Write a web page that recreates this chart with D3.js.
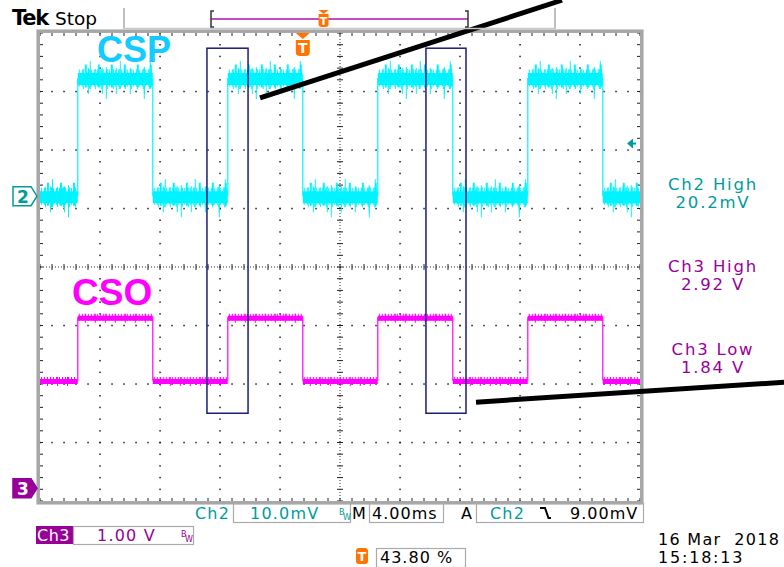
<!DOCTYPE html>
<html><head><meta charset="utf-8">
<script src="https://cdn.jsdelivr.net/npm/d3@7"></script>
<style>html,body{margin:0;padding:0;background:#fff;}svg{display:block;} text{white-space:pre;}</style>
</head><body>
<script>
// ---------- data ----------
const timeDomainMs = [-17.52, 22.48];          // visible record, 4.00 ms/div
const edgeTimesMs = [-15, -10, -5, 0, 5, 10, 15, 20];
const ch2LevelsMv = [0, 20.2, 0, 20.2, 0, 20.2, 0, 20.2, 0];
const ch3LevelsV  = [1.84, 2.92, 1.84, 2.92, 1.84, 2.92, 1.84, 2.92, 1.84];
const ch2VoltsPerDiv = 10;     // mV/div
const ch3VoltsPerDiv = 1;      // V/div
const ch2GroundDiv = 1.21;     // divisions above centre
const ch3GroundDiv = -3.78;
const triggerLevelMv = 9.0;
const triggerPercent = 43.80;
const traceLabels = ["CSP", "CSO"];
const measureLabels = ["Ch2 High", "Ch3 High", "Ch3 Low"];
const measureValues = ["20.2mV", "2.92 V", "1.84 V"];
const highlightWindowsMs = [[-6.39, -3.65], [8.21, 10.88]];
const highlightDivRange = [-2.50, 3.74];
const annotationLines = [[[-2.85, 2.89], [17.28, 4.56]], [[11.55, -2.31], [32.08, -1.97]]];
const statusTexts = {ch2Scale: "10.0mV", ch3Scale: "1.00 V", timebase: "4.00ms", trigLevel: "9.00mV",
  trigPos: "43.80 %", date: "16 Mar  2018", time: "15:18:13"};

// ---------- setup ----------
const W = 784, H = 567;
const svg = d3.select("body").append("svg").attr("width", W).attr("height", H);
svg.append("rect").attr("width", W).attr("height", H).attr("fill", "#fff");

const X0 = 40, X1 = 640, Y0 = 33, Y1 = 501;
const xDiv = d3.scaleLinear().domain([0, 10]).range([X0, X1]);
const yDiv = d3.scaleLinear().domain([-4, 4]).range([Y1, Y0]);
const xT = d3.scaleLinear().domain(timeDomainMs).range([X0, X1]);
const ch2Y = d3.scaleLinear().domain([0, ch2VoltsPerDiv]).range([yDiv(ch2GroundDiv), yDiv(ch2GroundDiv + 1)]);
const ch3Y = d3.scaleLinear().domain([0, ch3VoltsPerDiv]).range([yDiv(ch3GroundDiv), yDiv(ch3GroundDiv + 1)]);

const TEAL = "#009c9c", PURP = "#990099", CYAN = "#00f4ff", MAG = "#ff00ff", ORANGE = "#ff7400";
const FONT = "'DejaVu Sans', sans-serif";

// ---------- graticule ----------
const g = svg.append("g");
for (let i = 1; i < 10; i++) {
  if (i === 5) continue;
  for (let k = 0; k <= 40; k++) {
    g.append("rect").attr("x", xDiv(i) - 0.7).attr("y", yDiv(-4 + k / 5) - 0.7).attr("width", 1.5).attr("height", 1.5).attr("fill", "#222");
  }
}
for (let j = -3; j <= 3; j++) {
  if (j === 0) continue;
  for (let k = 0; k <= 50; k++) {
    g.append("rect").attr("x", xDiv(k / 5) - 0.7).attr("y", yDiv(j) - 0.7).attr("width", 1.5).attr("height", 1.5).attr("fill", "#222");
  }
}
g.append("line").attr("x1", xDiv(5)).attr("x2", xDiv(5)).attr("y1", Y0).attr("y2", Y1)
  .attr("stroke", "#333").attr("stroke-width", 1).attr("stroke-dasharray", "1 2");
g.append("line").attr("x1", X0).attr("x2", X1).attr("y1", yDiv(0)).attr("y2", yDiv(0))
  .attr("stroke", "#333").attr("stroke-width", 1).attr("stroke-dasharray", "1 2");
for (let k = 0; k <= 40; k++) {
  const y = yDiv(-4 + k / 5);
  g.append("line").attr("x1", xDiv(5) - 3).attr("x2", xDiv(5) + 3).attr("y1", y).attr("y2", y).attr("stroke", "#222");
}
for (let k = 0; k <= 50; k++) {
  const x = xDiv(k / 5);
  g.append("line").attr("x1", x).attr("x2", x).attr("y1", yDiv(0) - 3).attr("y2", yDiv(0) + 3).attr("stroke", "#222");
}
for (let k = 0; k <= 50; k++) {
  const x = xDiv(k / 5);
  g.append("line").attr("x1", x).attr("x2", x).attr("y1", Y0).attr("y2", Y0 + 3).attr("stroke", "#222");
  g.append("line").attr("x1", x).attr("x2", x).attr("y1", Y1 - 3).attr("y2", Y1).attr("stroke", "#222");
}
for (let k = 0; k <= 40; k++) {
  const y = yDiv(-4 + k / 5);
  g.append("line").attr("x1", X0).attr("x2", X0 + 3).attr("y1", y).attr("y2", y).attr("stroke", "#222");
  g.append("line").attr("x1", X1 - 3).attr("x2", X1).attr("y1", y).attr("y2", y).attr("stroke", "#222");
}
g.append("rect").attr("x", X0 - 1.8).attr("y", Y0 - 1.8).attr("width", X1 - X0 + 3.6).attr("height", Y1 - Y0 + 3.6)
  .attr("fill", "none").attr("stroke", "#a6a6a6").attr("stroke-width", 3.5);

// ---------- traces ----------
function segments(levels) {
  const bounds = [timeDomainMs[0], ...edgeTimesMs, timeDomainMs[1]];
  return levels.map((v, i) => ({t0: bounds[i], t1: bounds[i + 1], v}));
}
function drawTrace(levels, yS, color, base, overlays) {
  const tg = svg.append("g");
  const segs = segments(levels);
  edgeTimesMs.forEach((t, i) => {
    tg.append("line").attr("x1", xT(t)).attr("x2", xT(t))
      .attr("y1", yS(levels[i])).attr("y2", yS(levels[i + 1]))
      .attr("stroke", color).attr("stroke-width", 1.2);
  });
  segs.forEach(s => {
    tg.append("line").attr("x1", xT(s.t0)).attr("x2", xT(s.t1)).attr("y1", yS(s.v) + 1).attr("y2", yS(s.v) + 1)
      .attr("stroke", color).attr("stroke-width", base);
    overlays.forEach(o => {
      tg.append("line").attr("x1", xT(s.t0) + 1).attr("x2", xT(s.t1) - 1)
        .attr("y1", yS(s.v) + o.dy).attr("y2", yS(s.v) + o.dy)
        .attr("stroke", color).attr("stroke-width", o.w).attr("stroke-dasharray", o.dash)
        .attr("stroke-dashoffset", o.off);
    });
  });
}
drawTrace(ch2LevelsMv, ch2Y, CYAN, 12, [
  {w: 17, dash: "1 2", off: 0, dy: 0},
  {w: 20, dash: "1 5", off: 2, dy: 1},
  {w: 26, dash: "1 13", off: 5, dy: 3},
  {w: 32, dash: "1 37", off: 11, dy: 5},
  {w: 23, dash: "2 11", off: 7, dy: -2},
  {w: 28, dash: "1 29", off: 19, dy: -3}
]);
drawTrace(ch3LevelsV, ch3Y, MAG, 5, [
  {w: 7, dash: "1 2", off: 0, dy: 0},
  {w: 9, dash: "1 9", off: 4, dy: 1}
]);

svg.append("text").attr("x", 97).attr("y", 62).text(traceLabels[0])
  .attr("font-family", "'Liberation Sans', Arial, sans-serif").attr("font-weight", "bold").attr("font-size", 36).attr("fill", "#10ccff");
svg.append("text").attr("x", 72).attr("y", 305).text(traceLabels[1])
  .attr("font-family", "'Liberation Sans', Arial, sans-serif").attr("font-weight", "bold").attr("font-size", 37).attr("fill", MAG);

function gndMarker(div, fill, stroke, txtColor, label) {
  const y = yDiv(div);
  svg.append("path").attr("d", `M13,${y - 9.5} H31 L37,${y} L31,${y + 9.5} H13 Z`)
    .attr("fill", fill).attr("stroke", stroke).attr("stroke-width", 1.5);
  svg.append("text").attr("x", 23).attr("y", y + 6.5).attr("text-anchor", "middle").text(label)
    .attr("font-family", FONT).attr("font-weight", "bold").attr("font-size", 17).attr("fill", txtColor);
}
gndMarker(ch2GroundDiv, "#fff", TEAL, TEAL, "2");
gndMarker(ch3GroundDiv, PURP, PURP, "#fff", "3");

{
  const y = ch2Y(triggerLevelMv);
  svg.append("path").attr("d", `M627,${y} L633,${y - 5} L633,${y + 5} Z`).attr("fill", TEAL);
  svg.append("line").attr("x1", 632).attr("x2", 636).attr("y1", y).attr("y2", y).attr("stroke", TEAL).attr("stroke-width", 2);
}

function tBadge(cx, top, w, h, withTri) {
  const gg = svg.append("g");
  let y = top;
  if (withTri) {
    gg.append("path").attr("d", `M${cx - 7},${y} L${cx + 7},${y} L${cx},${y + 6} Z`).attr("fill", ORANGE);
    y += 7;
  }
  const r = 4;
  gg.append("path").attr("d", `M${cx - w / 2},${y} H${cx + w / 2} V${y + h - r} Q${cx + w / 2},${y + h} ${cx + w / 2 - r},${y + h} H${cx - w / 2 + r} Q${cx - w / 2},${y + h} ${cx - w / 2},${y + h - r} Z`)
    .attr("fill", ORANGE);
  gg.append("text").attr("x", cx).attr("y", y + h - 3).attr("text-anchor", "middle").text("T")
    .attr("font-family", FONT).attr("font-weight", "bold").attr("font-size", h - 2).attr("fill", "#fff");
}
tBadge(xT(0), Y0, 14, 16, true);

highlightWindowsMs.forEach(w => {
  svg.append("rect").attr("x", xT(w[0])).attr("y", yDiv(highlightDivRange[1]))
    .attr("width", xT(w[1]) - xT(w[0])).attr("height", yDiv(highlightDivRange[0]) - yDiv(highlightDivRange[1]))
    .attr("fill", "none").attr("stroke", "#1c1c7a").attr("stroke-width", 1.5);
});
annotationLines.forEach(l => {
  svg.append("line").attr("x1", xT(l[0][0])).attr("y1", yDiv(l[0][1])).attr("x2", xT(l[1][0])).attr("y2", yDiv(l[1][1]))
    .attr("stroke", "#000").attr("stroke-width", 5);
});

// ---------- header ----------
svg.append("text").attr("x", 12).attr("y", 25).text("Tek").attr("font-family", FONT).attr("font-weight", "bold")
  .attr("font-size", 21).attr("letter-spacing", -1.3).attr("fill", "#000");
svg.append("text").attr("x", 55).attr("y", 25).text("Stop").attr("font-family", FONT)
  .attr("font-size", 18.5).attr("fill", "#000");
svg.append("line").attr("x1", 124).attr("x2", 124).attr("y1", 8).attr("y2", 29).attr("stroke", "#aaa").attr("stroke-width", 1.5);
svg.append("line").attr("x1", 555).attr("x2", 555).attr("y1", 8).attr("y2", 29).attr("stroke", "#aaa").attr("stroke-width", 1.5);
svg.append("line").attr("x1", 124).attr("x2", 555).attr("y1", 28.5).attr("y2", 28.5).attr("stroke", "#c8c8c8").attr("stroke-width", 1.5);
{
  const bx0 = 211, bx1 = 468, by = 19;
  svg.append("line").attr("x1", bx0).attr("x2", bx1).attr("y1", by).attr("y2", by).attr("stroke", "#c24cc2").attr("stroke-width", 2);
  svg.append("path").attr("d", `M${bx0 + 3},${by - 8} H${bx0} V${by + 8} H${bx0 + 3}`).attr("fill", "none").attr("stroke", "#333").attr("stroke-width", 1.5);
  svg.append("path").attr("d", `M${bx1 - 3},${by - 8} H${bx1} V${by + 8} H${bx1 - 3}`).attr("fill", "none").attr("stroke", "#333").attr("stroke-width", 1.5);
  const tx = bx0 + (bx1 - bx0) * triggerPercent / 100;
  svg.append("path").attr("d", `M${tx - 5},${10} L${tx + 5},${10} L${tx},${14} Z`).attr("fill", ORANGE);
  const r = 3;
  svg.append("path").attr("d", `M${tx - 5},14 H${tx + 5} V${27 - r} Q${tx + 5},27 ${tx + 5 - r},27 H${tx - 5 + r} Q${tx - 5},27 ${tx - 5},${27 - r} Z`).attr("fill", ORANGE);
  svg.append("text").attr("x", tx).attr("y", 25).attr("text-anchor", "middle").text("T")
    .attr("font-family", FONT).attr("font-weight", "bold").attr("font-size", 11).attr("fill", "#fff");
}

// ---------- measurements ----------
const measColors = [TEAL, PURP, PURP];
const measY = [190, 272, 355];
measureLabels.forEach((lab, i) => {
  svg.append("text").attr("x", 713).attr("y", measY[i]).attr("text-anchor", "middle").text(lab)
    .attr("font-family", FONT).attr("font-size", 16.5).attr("letter-spacing", 1.8).attr("fill", measColors[i]);
  svg.append("text").attr("x", 713).attr("y", measY[i] + 18).attr("text-anchor", "middle").text(measureValues[i])
    .attr("font-family", FONT).attr("font-size", 16.5).attr("letter-spacing", 1.8).attr("fill", measColors[i]);
});

// ---------- status bar ----------
function txt(x, y, s, color, opts = {}) {
  return svg.append("text").attr("x", x).attr("y", y).text(s).attr("font-family", FONT)
    .attr("font-size", opts.size || 16).attr("letter-spacing", opts.ls !== undefined ? opts.ls : 1.2)
    .attr("fill", color).attr("text-anchor", opts.anchor || "start");
}
function box(x0, y0, x1, y1) {
  svg.append("rect").attr("x", x0).attr("y", y0).attr("width", x1 - x0).attr("height", y1 - y0)
    .attr("fill", "none").attr("stroke", "#aaa").attr("stroke-width", 1.2);
}
function bw(x, y, color) {
  txt(x, y - 5, "B", color, {size: 8, ls: 0});
  txt(x + 4, y, "W", color, {size: 8, ls: 0});
}
txt(195, 519, "Ch2", TEAL);
box(233.5, 503.5, 350.5, 522.5);
txt(250, 519, statusTexts.ch2Scale, TEAL);
bw(339, 520, TEAL);
txt(352, 519, "M", "#000", {ls: 0});
box(369.5, 503.5, 443.5, 522.5);
txt(372, 519, statusTexts.timebase, "#000", {ls: 1});
txt(461, 519, "A", "#000");
box(476.5, 503.5, 643.5, 522.5);
txt(490, 519, "Ch2", TEAL);
svg.append("path").attr("d", "M540,508 H545 L548.5,518 H551").attr("fill", "none").attr("stroke", "#000").attr("stroke-width", 2);
txt(570, 519, statusTexts.trigLevel, "#000", {ls: 1});
svg.append("rect").attr("x", 36).attr("y", 526).attr("width", 37).attr("height", 18).attr("fill", PURP);
txt(37, 541, "Ch3", "#fff", {ls: 0.5});
box(73.5, 526.5, 193.5, 544.5);
txt(97, 541, statusTexts.ch3Scale, PURP);
bw(181, 542, PURP);
{
  svg.append("rect").attr("x", 356).attr("y", 548).attr("width", 12).attr("height", 16).attr("rx", 3).attr("fill", ORANGE);
  txt(362, 561, "T", "#fff", {size: 13, ls: 0, anchor: "middle"}).attr("font-weight", "bold");
}
box(376.5, 548.5, 465.5, 567.5);
txt(380, 563, statusTexts.trigPos, "#000", {ls: 1});
txt(658, 545, statusTexts.date, "#000", {ls: 1.3});
txt(658, 563, statusTexts.time, "#000", {ls: 1.8});
</script>
</body></html>
